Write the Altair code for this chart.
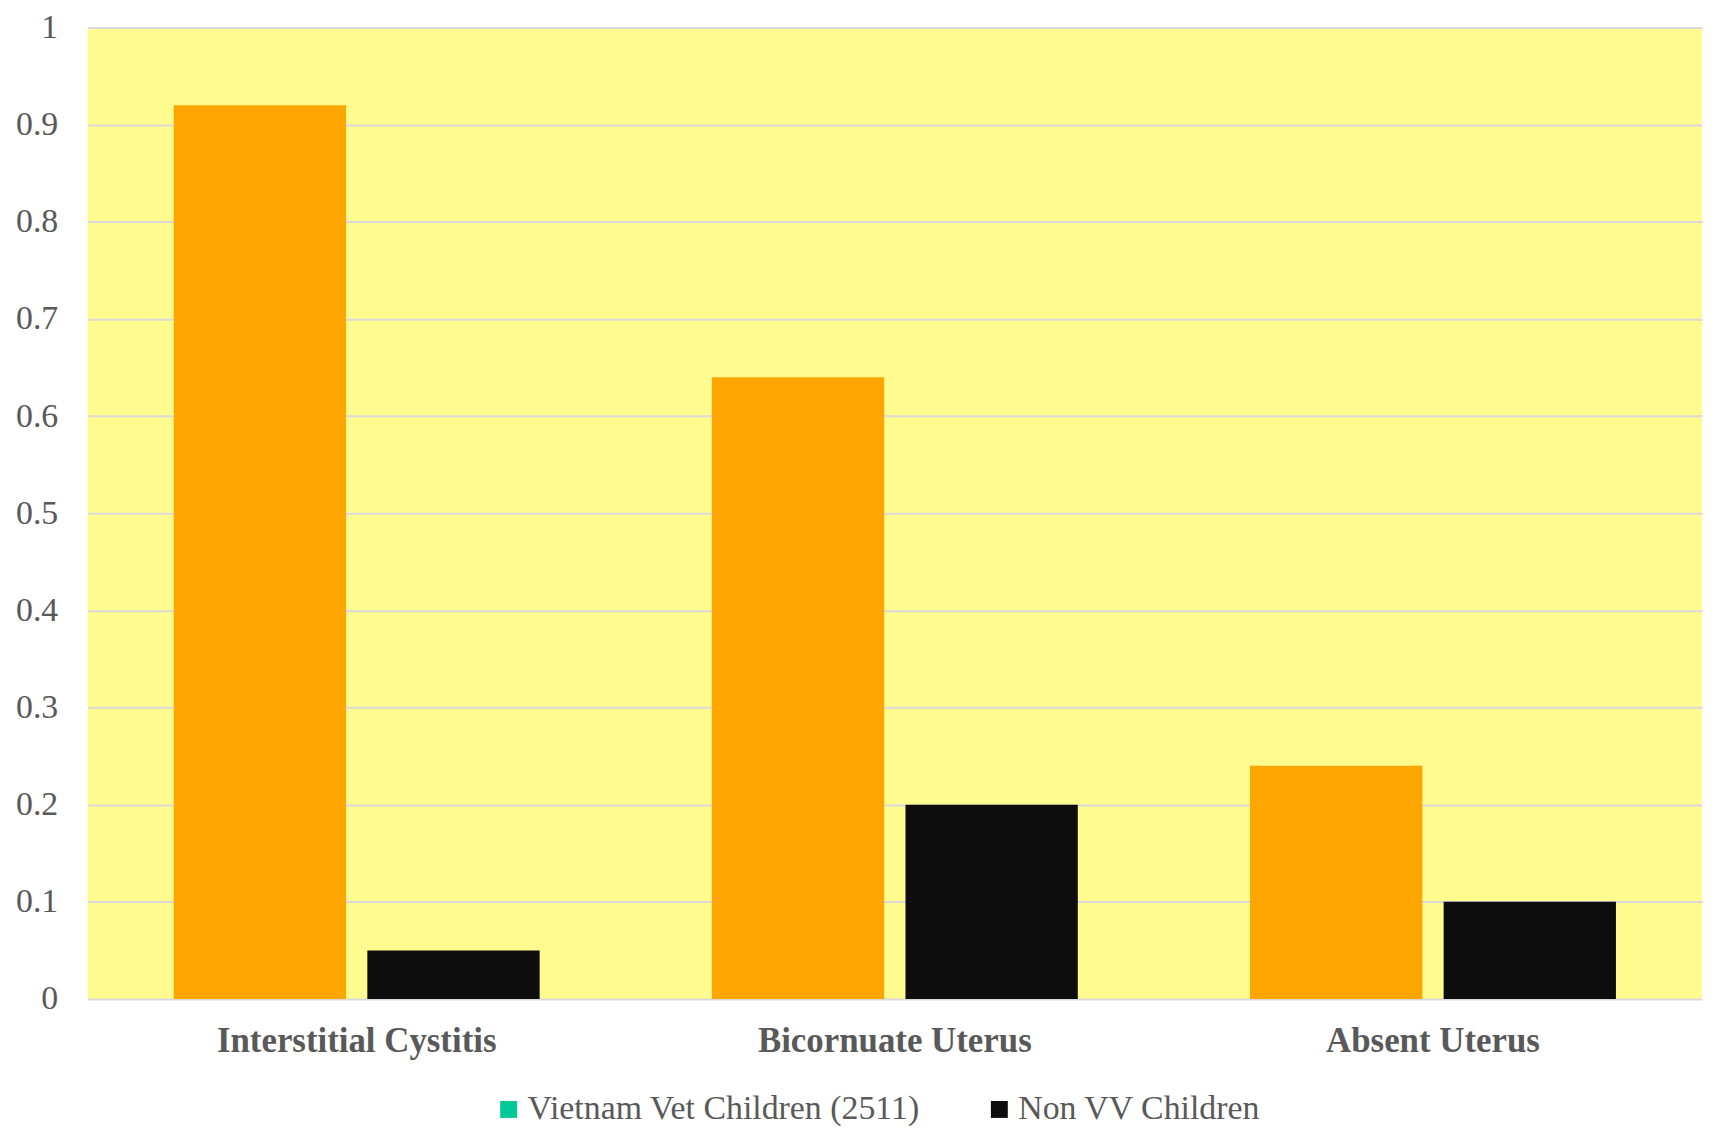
import altair as alt
import pandas as pd

categories = ["Interstitial Cystitis", "Bicornuate Uterus", "Absent Uterus"]
series = ["Vietnam Vet Children (2511)", "Non VV Children"]
vv_values = [0.92, 0.64, 0.24]
non_vv_values = [0.05, 0.20, 0.10]
bar_colors = ["#FFA500", "#0D0D0D"]
legend_colors = ["#00C896", "#0D0D0D"]
y_ticks = [0, 0.1, 0.2, 0.3, 0.4, 0.5, 0.6, 0.7, 0.8, 0.9, 1.0]

rows = []
for c, a, b in zip(categories, vv_values, non_vv_values):
    rows.append({"category": c, "series": series[0], "value": a})
    rows.append({"category": c, "series": series[1], "value": b})
df = pd.DataFrame(rows)

FONT = "Liberation Serif"
TXT = "#595959"
BG = "#FFFB8F"

x = alt.X(
    "category:N", sort=categories,
    scale=alt.Scale(paddingInner=0.32, paddingOuter=0.16),
    axis=alt.Axis(title=None, labelAngle=0, labelFont=FONT, labelFontSize=35,
                  labelFontWeight="bold", labelColor=TXT, labelPadding=25,
                  labelLimit=600, ticks=False, domain=False, grid=False),
)
y = alt.Y(
    "value:Q",
    scale=alt.Scale(domain=[0, 1], nice=False),
    axis=alt.Axis(title=None, values=y_ticks, format=".1~f", labelFont=FONT,
                  labelFontSize=34, labelColor=TXT, labelPadding=30,
                  ticks=False, domain=False, gridColor="#D9D9D9", gridWidth=2),
)

bars = alt.Chart(df).mark_bar().encode(
    x=x,
    xOffset=alt.XOffset("series:N", sort=series,
                        scale=alt.Scale(paddingInner=0.11, paddingOuter=0)),
    y=y,
    color=alt.Color("series:N", scale=alt.Scale(domain=series, range=bar_colors),
                    legend=None),
)

legend_layer = alt.Chart(df).transform_filter("false").mark_square(size=289, opacity=1).encode(
    color=alt.Color(
        "series:N",
        scale=alt.Scale(domain=series, range=legend_colors),
        legend=alt.Legend(
            title=None, orient="none", legendX=406, legendY=1070,
            direction="horizontal", labelFont=FONT, labelFontSize=34,
            labelColor=TXT, labelLimit=800, symbolType="square",
            symbolSize=289, symbolStrokeWidth=0, columnPadding=62,
            labelOffset=2,
        ),
    )
)

chart = alt.layer(bars, legend_layer).resolve_scale(color="independent").properties(
    width=1622, height=976,
    autosize=alt.AutoSizeParams(type="none"),
    padding={"left": 80, "top": 17, "right": 9, "bottom": 125},
    background="white",
    view=alt.ViewBackground(fill=BG, strokeWidth=0),
).configure_view(fill=BG, strokeWidth=0)

chart.save("out.html", embed_options={"renderer": "svg", "actions": False})
